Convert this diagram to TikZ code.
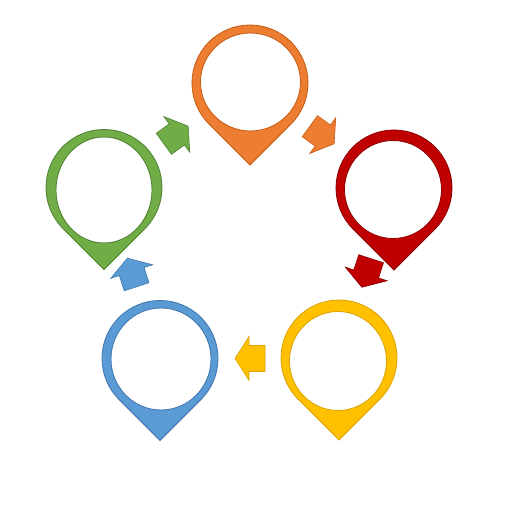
\documentclass[tikz,border=0pt]{standalone}
\usetikzlibrary{calc}
\definecolor{cOr}{HTML}{ED7D31}\definecolor{dOr}{HTML}{C55A11}
\definecolor{cRe}{HTML}{C00000}\definecolor{dRe}{HTML}{8C0000}
\definecolor{cYe}{HTML}{FFC000}\definecolor{dYe}{HTML}{D9A300}
\definecolor{cBl}{HTML}{5B9BD5}\definecolor{dBl}{HTML}{3F75AE}
\definecolor{cGr}{HTML}{70AD47}\definecolor{dGr}{HTML}{4F7F30}
\newcommand{\mypin}[7]{% cx cy fill stroke icx icy rx ry
  \filldraw[even odd rule, fill=#3, draw=#4, line width=0.8pt]
    (#1,#2-82) -- ($(#1,#2)+(-45:58)$) arc[start angle=-45, end angle=225, radius=58] -- cycle
    (#5,#6) ellipse[x radius=#7];
}
\newcommand{\myarrow}[5]{% x y angle fill stroke
  \begin{scope}[shift={(#1,#2)}, rotate=#3]
    \filldraw[fill=#4, draw=#5, line width=0.6pt, line join=miter]
      (-15,-13) -- (1,-13) -- (1,-22) -- (15,0) -- (1,22) -- (1,13) -- (-15,13) -- cycle;
  \end{scope}
}
\begin{document}
\begin{tikzpicture}[x=1pt,y=1pt]
\useasboundingbox (0,0) rectangle (512,512);
\fill[white] (0,0) rectangle (512,512);
% pins
\mypin{250}{429}{cOr}{dOr}{250.5}{430}{50, y radius=49}
\mypin{394}{324}{cRe}{dRe}{393}{322.5}{48.5, y radius=49}
\mypin{339}{154}{cYe}{dYe}{338}{151}{48.5, y radius=49.5}
\mypin{160}{153.5}{cBl}{dBl}{161}{153}{50, y radius=51}
\mypin{104}{324.5}{cGr}{dGr}{104}{322}{48, y radius=53}
% arrows
\myarrow{176}{377}{36}{cGr}{dGr}
\myarrow{322}{377}{-36}{cOr}{dOr}
\myarrow{366.5}{239}{-108}{cRe}{dRe}
\myarrow{250}{153.5}{180}{cYe}{dYe}
\myarrow{132}{239.5}{108}{cBl}{dBl}
\end{tikzpicture}
\end{document}
